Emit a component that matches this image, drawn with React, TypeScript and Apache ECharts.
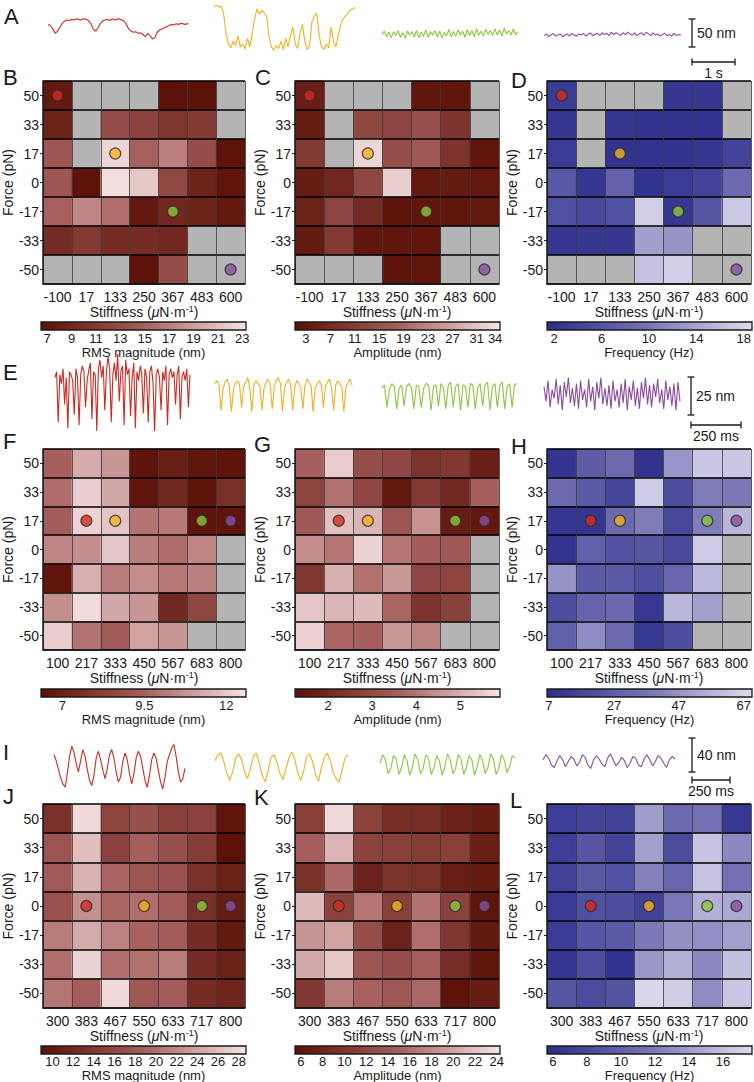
import React, { useEffect, useRef } from "react";
import * as echarts from "echarts";

// ---------------- categories ----------------
const forceTopDown = ["50", "33", "17", "0", "-17", "-33", "-50"];
const forceBottomUp = [...forceTopDown].reverse();
const stiffnessRow1 = ["-100", "17", "133", "250", "367", "483", "600"];
const stiffnessRow2 = ["100", "217", "333", "450", "567", "683", "800"];
const stiffnessRow3 = ["300", "383", "467", "550", "633", "717", "800"];

const _ = null;
// rows: force 50 -> -50 (top to bottom); columns: stiffness left -> right; null = no data (grey)
const rmsB = [
  [7.5, _, _, _, 6.7, 6.7, _],
  [8.5, _, 13, 12, 10.5, 11, _],
  [14, _, 22.5, 15, 17, 13, 6.8],
  [14, 6.8, 23, 21.5, 12.5, 8.5, 7],
  [15, 17.5, 16, 7.5, 9, 8.5, 7.5],
  [9.5, 11, 9.5, 9.5, 9, _, _],
  [_, _, _, 6.8, 13, _, _],
];
const ampC = [
  [4.5, _, _, _, 2.5, 2.5, _],
  [4, _, 13, 12.5, 15, 9, _],
  [10, _, 33, 14.5, 16.5, 9, 2.5],
  [4, 6, 13, 32, 3, 3.5, 3],
  [5, 12.5, 7, 2, 2.5, 2.5, 3],
  [3.5, 10, 2.5, 2.5, 2.5, _, _],
  [_, _, _, 2, 2.5, _, _],
];
const freqD = [
  [3, _, _, _, 2.5, 2.5, _],
  [2.5, _, 2.5, 2, 2, 2, _],
  [3, _, 2, 2, 2, 2.5, 4],
  [6.5, 2.5, 7.5, 2, 3, 4, 8.5],
  [5.5, 4.5, 5.5, 17.5, 2.5, 6, 17],
  [2.5, 2.5, 2.5, 13.5, 12.5, _, _],
  [_, _, _, 16.5, 17.5, _, _],
];
const rmsF = [
  [9.5, 11.3, 10.8, 6.5, 6.9, 6.6, 6.5],
  [9.8, 12.1, 11.2, 6.6, 7.3, 6.5, 7.6],
  [9.4, 12.2, 11.9, 10, 10.1, 6.5, 6.5],
  [10.4, 10.6, 11.9, 10.2, 9.8, 10.4, _],
  [6.6, 11.4, 10.2, 10.6, 10.1, 10.3, _],
  [10.6, 12.4, 11.2, 10.8, 7.3, 8.5, _],
  [12.1, 10, 9.3, 11.1, 10.8, _, _],
];
const ampG = [
  [3.6, 5.5, 3.1, 2.9, 2.3, 2.4, 1.7],
  [2.8, 3.9, 2.9, 1.5, 2.5, 2, 3.6],
  [3.4, 5.3, 5.1, 3.3, 4.5, 1.6, 1.5],
  [4.4, 4, 5.6, 4, 3.5, 3.4, _],
  [2.4, 5, 3.9, 4.6, 2.9, 2.8, _],
  [5.4, 5.1, 5.2, 3.7, 2.3, 2.7, _],
  [5.6, 3.7, 3.6, 4.6, 4.2, _, _],
];
const freqH = [
  [9, 27, 33, 8, 48, 63, 63],
  [33, 26, 17, 64, 20, 40, 39],
  [10, 10, 33, 40, 18, 40, 58],
  [9, 28, 22, 24, 19, 64, _],
  [47, 26, 26, 21, 31, 59, _],
  [20, 30, 32, 11, 58, 51, _],
  [28, 45, 33, 11, 20, _, _],
];
const rmsJ = [
  [13, 28, 15.5, 17, 15, 15.3, 9.5],
  [17.5, 26, 15.3, 18.8, 17, 14.5, 9],
  [18.2, 25, 19.2, 17.6, 17.2, 13, 11],
  [17.2, 22.5, 19.3, 20, 18.5, 13, 10.5],
  [21, 24.5, 21.5, 19, 18.5, 12.5, 10],
  [20, 27.5, 20, 20.3, 21, 12.5, 11],
  [20.5, 18.8, 28, 18, 18.6, 12.5, 11.5],
];
const ampK = [
  [11.3, 23.5, 11.6, 9, 9, 7.5, 7],
  [14.8, 21, 11.6, 11.3, 10.8, 11.3, 7.3],
  [9.5, 15.6, 7.6, 9.8, 9.3, 7.2, 6.8],
  [21.5, 11.5, 16.5, 11.3, 16.3, 11.5, 6],
  [18.7, 19.8, 13, 7.8, 16, 10, 6.5],
  [20.2, 22.3, 13.8, 13, 14.8, 9, 6],
  [10.3, 17, 15, 14, 15.5, 5.8, 7],
];
const freqL = [
  [7, 7.5, 7.3, 14, 10.7, 11.3, 6.5],
  [7, 9, 7.5, 14.2, 8.2, 16.3, 12.8],
  [7.2, 9.2, 8.6, 12.3, 10.3, 16.3, 11.3],
  [6.7, 8.5, 8.3, 7.3, 11.8, 15.2, 14.7],
  [6.8, 9, 9.4, 11.9, 13.3, 13.2, 14.2],
  [6.3, 8.3, 5.9, 13.7, 15.1, 12.8, 16.1],
  [9, 8.2, 8.8, 17.4, 16.8, 13, 16.5],
];

// colour-bar tick labels
const ticksB = [7, 9, 11, 13, 15, 17, 19, 21, 23];
const ticksC = [3, 7, 11, 15, 19, 23, 27, 31, 34];
const ticksD = [2, 6, 10, 14, 18];
const ticksF = [7, 9.5, 12];
const ticksG = [2, 3, 4, 5];
const ticksH = [7, 27, 47, 67];
const ticksJ = [10, 12, 14, 16, 18, 20, 22, 24, 26, 28];
const ticksK = [6, 8, 10, 12, 14, 16, 18, 20, 22, 24];
const ticksL = [6, 8, 10, 12, 14, 16];

// highlighted conditions (stiffness, force) for red, yellow, green, purple
const dotsRow1 = [["-100", "50"], ["133", "17"], ["367", "-17"], ["600", "-50"]];
const dotsRow2 = [["217", "17"], ["333", "17"], ["683", "17"], ["800", "17"]];
const dotsRow3 = [["383", "0"], ["550", "0"], ["717", "0"], ["800", "0"]];

// example traces (nm)
const traceA_red = [10, 8, 2, -6, -2, 5, 12, 16, 18, 17, 19, 18, 20, 19, 18, 20, 19, 17, 12, 2, -2, 3, 11, 16, 18, 19, 17, 20, 18, 19, 20, 18, 16, 10, 2, -2, -4, -3, -6, -5, -8, -12, -6, -10, -16, -14, -4, 0, 2, 4, 6, 8, 10, 9, 11, 10, 12, 11, 10, 12];
const traceA_yellow = [42, 44, 41, 43, 30, -5, -25, -32, -20, -28, -10, -30, -25, -34, -15, -30, -5, 20, 38, 28, 35, 30, 25, -10, -30, -36, -28, -33, -20, -35, -15, -30, -10, 5, -25, -33, -5, 10, -20, -35, -28, 15, 25, 30, -10, -30, -35, -25, -32, 5, -20, -30, -10, 10, 20, 25, 30, 35, 38, 40];
const traceA_green = [-8, -2, -12, -4, -14, -3, -10, -1, -13, -5, -15, -2, -9, -3, -12, -1, -14, -4, -11, 0, -13, -3, -9, -1, -12, -2, -14, -4, -10, 1, -12, -3, -11, 0, -9, -2, -13, 1, -10, -1, -12, 2, -9, -2, -11, 1, -8, -1, -10, 2, -9, 0, -11, 3, -7, -1, -9, 2, -8, -3];
const traceA_purple = [-10, -7, -12, -9, -6, -11, -9, -7, -12, -9, -7, -11, -6, -9, -11, -7, -9, -6, -11, -8, -5, -10, -8, -6, -10, -5, -8, -6, -10, -4, -8, -5, -7, -10, -5, -8, -4, -7, -9, -5, -10, -7, -5, -9, -4, -7, -10, -5, -9, -7, -11, -8, -6, -10, -8, -11, -6, -10, -8, -9];

const traceE_red = [10, 14, -20, 12, 6, 16, -8, 10, -24, 14, 12, 8, -15, 16, 10, -22, 12, 18, 14, -10, 8, 15, 20, -18, 14, 12, -26, 16, 22, 10, 18, -12, 14, 24, 16, -20, 12, 20, 8, 26, -6, 14, 18, -22, 22, 12, 16, -16, 10, 20, -24, 14, 8, 18, 12, -14, 16, 10, -20, 14, 18, 6, -26, 12, 16, 10, -12, 14, 8, 18, -22, 12, 16, 10, 14, -8, 12, 18, -18, 10, 14, 8, 16, -10, 12];
const traceE_yellow = [6, 8, 5, -12, 3, 7, 9, 4, -13, 2, 6, 8, 5, -10, 4, 7, 10, 3, -13, 5, 8, 6, 4, -12, 3, 7, 9, 5, -11, 4, 8, 10, 6, -13, 3, 7, 9, 5, -12, 4, 8, 6, 3, -11, 5, 9, 7, 4, -13, 3, 6, 8, 5, -10, 4, 7, 9, 3, -12, 5, 8, 6, 4, -13, 3, 7, 9, 5];
const traceE_green = [3, 5, -10, 2, 6, 4, -11, 3, 5, -9, 4, 6, 3, -11, 5, 4, -10, 3, 6, 5, -12, 4, 5, -9, 6, 3, -11, 5, 7, -10, 4, 6, -12, 5, 4, -10, 6, 5, -11, 3, 6, -9, 5, 7, -12, 4, 6, -10, 5, 7, -11, 4, 6, -10, 5, 6];
const traceE_purple = [4, -6, 8, -10, 2, -4, 9, -8, 5, -12, 7, -3, 10, -7, 3, -9, 6, -11, 8, -5, 2, -10, 9, -6, 4, -12, 7, -4, 10, -8, 3, -9, 5, -11, 8, -6, 2, -10, 6, -7, 9, -12, 4, -5, 8, -9, 3, -11, 7, -4, 10, -8, 5, -10, 6, -3, 9, -7, 2, -11, 8, -5, 4, -9, 6, -12, 7, -6];

const traceI_red = [12, 5, -5, -15, -22, -26, -10, 10, 22, 15, 2, -8, 5, 18, 10, -5, -18, -24, -12, 8, 16, 6, -6, -16, -4, 12, 18, 8, -8, -20, -14, 4, 14, 6, -10, -22, -10, 8, 16, 10, -4, -18, -26, -12, 6, 14, 8, -6, -20, -28, -14, 4, 12, 20, 24, 10, -8, -20, -16, -4];
const traceI_yellow = [5, 12, 14, 4, -10, -18, -8, 8, 13, 6, -8, -16, -4, 10, 14, 2, -12, -20, -6, 9, 12, 3, -10, -17, -5, 8, 15, 6, -9, -18, -7, 10, 13, 4, -11, -19, -3, 9, 14, 5, -8, -16, -20, -6, 8, 12];
const traceI_green = [2, 12, 6, -10, -4, 11, 7, -11, -3, 12, 5, -12, -2, 13, 6, -10, -4, 12, 7, -11, -3, 11, 5, -12, -2, 13, 6, -10, -4, 12, 7, -11, -3, 11, 6, -12, -2, 12, 5, -10, -3, 13, 7, -11, -4, 12, 6, -9, -2, 11, 8];
const traceI_purple = [6, 12, 8, 0, -3, 5, 11, 6, -2, 4, 10, 7, -1, 3, 12, 9, 0, -4, 6, 11, 7, 1, -2, 8, 13, 6, -1, 3, 9, 5, -3, 2, 10, 8, 0, -2, 7, 12, 6, -1, 4, 11, 8, 2, -3, 6, 10, 7];

// ---------------- styles ----------------
const FONT = "'Liberation Sans', Arial, Helvetica, sans-serif";
const NARROW = "'Liberation Sans Narrow', 'Arial Narrow', 'Liberation Sans', sans-serif";
const INK = "#1a1a1a";
const REDS = ["#5a1006", "#a65e5c", "#f6e3e3"];
const BLUES = ["#2c2e8c", "#7875b6", "#dedcef"];
const TRACE_COLORS = ["#cf2a22", "#efb220", "#8cc540", "#8a4d9f"];
const DOT_COLORS = ["#d52b1e", "#f2b11f", "#8dc63f", "#8a4f9f"];

const colLeft = [41, 295, 547];
const gridW = 204;
const rowTop = [81, 449, 804];
const rowH = [203, 201, 204];
const cbTop = [322, 689, 1046];
const cbTitleGap = [15, 15, 12];
const cbH = 8;
const cbW = 205;

const panels = [
  { row: 0, col: 0, xs: stiffnessRow1, values: rmsB, min: 6.5, max: 23.3, ticks: ticksB, title: "RMS magnitude (nm)", colors: REDS, dots: dotsRow1 },
  { row: 0, col: 1, xs: stiffnessRow1, values: ampC, min: 1.2, max: 34.8, ticks: ticksC, title: "Amplitude (nm)", colors: REDS, dots: dotsRow1 },
  { row: 0, col: 2, xs: stiffnessRow1, values: freqD, min: 1.4, max: 18.6, ticks: ticksD, title: "Frequency (Hz)", colors: BLUES, dots: dotsRow1 },
  { row: 1, col: 0, xs: stiffnessRow2, values: rmsF, min: 6.35, max: 12.6, ticks: ticksF, title: "RMS magnitude (nm)", colors: REDS, dots: dotsRow2 },
  { row: 1, col: 1, xs: stiffnessRow2, values: ampG, min: 1.25, max: 5.9, ticks: ticksG, title: "Amplitude (nm)", colors: REDS, dots: dotsRow2 },
  { row: 1, col: 2, xs: stiffnessRow2, values: freqH, min: 6.4, max: 69.5, ticks: ticksH, title: "Frequency (Hz)", colors: BLUES, dots: dotsRow2 },
  { row: 2, col: 0, xs: stiffnessRow3, values: rmsJ, min: 8.9, max: 28.7, ticks: ticksJ, title: "RMS magnitude (nm)", colors: REDS, dots: dotsRow3 },
  { row: 2, col: 1, xs: stiffnessRow3, values: ampK, min: 5.45, max: 24.3, ticks: ticksK, title: "Amplitude (nm)", colors: REDS, dots: dotsRow3 },
  { row: 2, col: 2, xs: stiffnessRow3, values: freqL, min: 5.65, max: 17.7, ticks: ticksL, title: "Frequency (Hz)", colors: BLUES, dots: dotsRow3 },
];

const traceRows = [
  { top: 2, height: 56, range: 50, traces: [traceA_red, traceA_yellow, traceA_green, traceA_purple], xs: [[48, 140], [214, 141], [382, 136], [544, 137]] },
  { top: 345, height: 95, range: 32, traces: [traceE_red, traceE_yellow, traceE_green, traceE_purple], xs: [[55, 135], [215, 137], [382, 135], [544, 136]] },
  { top: 735, height: 60, range: 35, traces: [traceI_red, traceI_yellow, traceI_green, traceI_purple], xs: [[54, 131], [215, 133], [380, 135], [543, 132]] },
];

const letters = [
  ["A", 4, 16], ["B", 3, 77], ["C", 255, 77], ["D", 511, 80],
  ["E", 3, 372], ["F", 3, 441], ["G", 254, 444], ["H", 511, 446],
  ["I", 3, 752], ["J", 3, 796], ["K", 254, 797], ["L", 510, 800],
];

function scaleBar(x: number, y1: number, y2: number, label: string, hy: number, hx2: number, hlabel: string) {
  const s = { stroke: INK, lineWidth: 1.3 };
  return [
    { type: "line", shape: { x1: x, y1, x2: x, y2 }, style: s },
    { type: "line", shape: { x1: x - 3.5, y1, x2: x + 3.5, y2: y1 }, style: s },
    { type: "line", shape: { x1: x - 3.5, y1: y2, x2: x + 3.5, y2: y2 }, style: s },
    { type: "text", x: x + 5, y: (y1 + y2) / 2, style: { text: label, fontSize: 14, fontFamily: FONT, fill: INK, verticalAlign: "middle", align: "left" } },
    { type: "line", shape: { x1: x, y1: hy, x2: hx2, y2: hy }, style: s },
    { type: "line", shape: { x1: x, y1: hy - 3.5, x2: x, y2: hy + 3.5 }, style: s },
    { type: "line", shape: { x1: hx2, y1: hy - 3.5, x2: hx2, y2: hy + 3.5 }, style: s },
    { type: "text", x: (x + hx2) / 2, y: hy + 4, style: { text: hlabel, fontSize: 14, fontFamily: FONT, fill: INK, verticalAlign: "top", align: "center" } },
  ];
}

function buildOption() {
  const grid: any[] = [];
  const xAxis: any[] = [];
  const yAxis: any[] = [];
  const series: any[] = [];
  const visualMap: any[] = [];
  const graphic: any[] = [];

  panels.forEach((p) => {
    const gi = grid.length;
    const left = colLeft[p.col];
    const top = rowTop[p.row];
    grid.push({ left, top, width: gridW, height: rowH[p.row], show: true, backgroundColor: "#b4b4b4", borderWidth: 0 });
    xAxis.push({
      type: "category", gridIndex: gi, data: p.xs, z: 3,
      axisLine: { show: true, lineStyle: { color: INK, width: 1.5 } },
      axisTick: { show: false },
      axisLabel: { fontSize: 14, fontFamily: FONT, color: INK, margin: 6, interval: 0 },
      splitLine: { show: true, lineStyle: { color: "#3a3a3a", width: 0.8 } },
      name: "Stiffness ({mu|μ}N·m{sup|-1})", nameLocation: "middle", nameGap: 20,
      nameTextStyle: {
        fontSize: 14, fontFamily: FONT, color: INK, verticalAlign: "top",
        rich: {
          mu: { fontSize: 14, fontFamily: FONT, fontStyle: "italic", color: INK },
          sup: { fontSize: 9, fontFamily: FONT, color: INK, verticalAlign: "top" },
        },
      },
    });
    yAxis.push({
      type: "category", gridIndex: gi, data: forceBottomUp, z: 3,
      axisLine: { show: true, lineStyle: { color: INK, width: 1.5 } },
      axisTick: { show: true, length: 3, alignWithLabel: true, lineStyle: { color: INK } },
      axisLabel: { fontSize: 14, fontFamily: FONT, color: INK, margin: 4, interval: 0 },
      splitLine: { show: true, lineStyle: { color: "#000", width: 1.6 } },
      name: "Force (pN)", nameLocation: "middle", nameGap: 23, nameRotate: 90,
      nameTextStyle: { fontSize: 14, fontFamily: FONT, color: INK },
    });
    const data: number[][] = [];
    p.values.forEach((row, r) =>
      row.forEach((v, c) => {
        if (v !== null) data.push([c, forceBottomUp.indexOf(forceTopDown[r]), v as number]);
      })
    );
    const si = series.length;
    series.push({
      type: "heatmap", xAxisIndex: gi, yAxisIndex: gi, data, z: 2, silent: true,
      itemStyle: { borderWidth: 0 }, emphasis: { disabled: true },
    });
    visualMap.push({ type: "continuous", show: false, seriesIndex: si, dimension: 2, min: p.min, max: p.max, inRange: { color: p.colors } });
    series.push({
      type: "scatter", xAxisIndex: gi, yAxisIndex: gi, z: 5, silent: true, symbolSize: 11,
      data: p.dots.map((d, k) => ({
        value: [p.xs.indexOf(d[0]), forceBottomUp.indexOf(d[1])],
        itemStyle: { color: DOT_COLORS[k], borderColor: "#2a2a2a", borderWidth: 1.2 },
      })),
    });

    // colour bar
    const cl = colLeft[p.col];
    const ct = cbTop[p.row];
    const stops = p.colors.map((c, k) => ({ offset: k / (p.colors.length - 1), color: c }));
    graphic.push({
      type: "rect", z: 10,
      shape: { x: cl, y: ct, width: cbW, height: cbH },
      style: { fill: { type: "linear", x: 0, y: 0, x2: 1, y2: 0, colorStops: stops }, stroke: INK, lineWidth: 1.3 },
    });
    const cg = grid.length;
    grid.push({ left: cl, top: ct + cbH, width: cbW, height: 1 });
    xAxis.push({
      type: "value", gridIndex: cg, min: p.min, max: p.max,
      axisLine: { show: false }, axisTick: { show: false }, splitLine: { show: false },
      axisLabel: { customValues: p.ticks, fontSize: 13, fontFamily: NARROW, color: INK, margin: 1 },
      name: p.title, nameLocation: "middle", nameGap: cbTitleGap[p.row],
      nameTextStyle: { fontSize: 13, fontFamily: NARROW, color: INK, verticalAlign: "top" },
    });
    yAxis.push({ type: "value", gridIndex: cg, show: false, min: 0, max: 1 });
  });

  traceRows.forEach((tr) => {
    tr.traces.forEach((t, k) => {
      const gi = grid.length;
      grid.push({ left: tr.xs[k][0], width: tr.xs[k][1], top: tr.top, height: tr.height });
      xAxis.push({ type: "category", gridIndex: gi, show: false, boundaryGap: false, data: t.map((_v, i) => String(i)) });
      yAxis.push({ type: "value", gridIndex: gi, show: false, min: -tr.range, max: tr.range });
      series.push({
        type: "line", xAxisIndex: gi, yAxisIndex: gi, data: t, showSymbol: false, silent: true,
        lineStyle: { color: TRACE_COLORS[k], width: 1.1 },
      });
    });
  });

  letters.forEach(([t, x, y]) => {
    graphic.push({ type: "text", x, y, style: { text: t, fontSize: 22, fontFamily: FONT, fill: INK, verticalAlign: "middle", align: "left" } });
  });
  graphic.push(...scaleBar(692, 19, 47, "50 nm", 62, 735, "1 s"));
  graphic.push(...scaleBar(691, 377, 415, "25 nm", 425, 741, "250 ms"));
  graphic.push(...scaleBar(692, 738, 772, "40 nm", 780, 730, "250 ms"));

  return { animation: false, backgroundColor: "#ffffff", grid, xAxis, yAxis, series, visualMap, graphic };
}

export default function App() {
  const ref = useRef<HTMLDivElement>(null);
  useEffect(() => {
    const chart = echarts.init(ref.current!, null, { renderer: "svg" });
    chart.setOption(buildOption() as any);
    return () => chart.dispose();
  }, []);
  return <div ref={ref} style={{ position: "absolute", left: 0, top: 0, width: 754, height: 1082, background: "#fff" }} />;
}
